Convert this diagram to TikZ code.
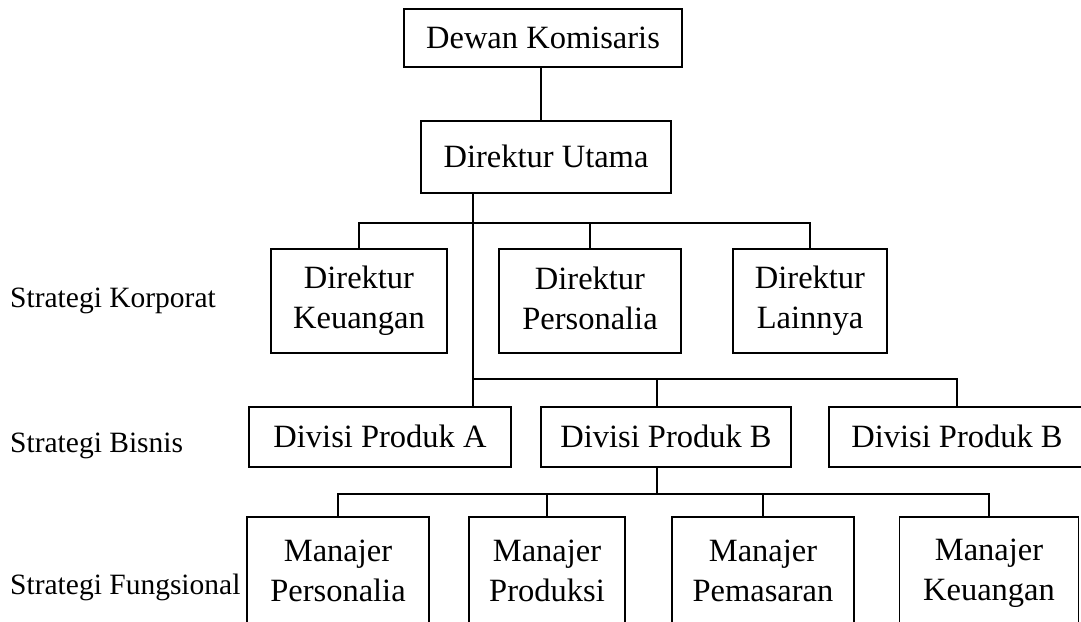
\documentclass[tikz,border=0pt]{standalone}
\usepackage{fontspec}
\setmainfont{Liberation Serif}
\begin{document}
\begin{tikzpicture}[x=1pt,y=-1pt,
  boxbase/.style={draw, line width=1.6pt, inner sep=0pt, align=center,
    font=\fontsize{32.5}{40}\selectfont},
  unit/.style={boxbase,
    execute at begin node={\rule{0pt}{30pt}},
    execute at end node={\rule[-10pt]{0pt}{10pt}}},
  pair/.style={boxbase,
    execute at begin node={\rule{0pt}{35pt}},
    execute at end node={\rule[-5pt]{0pt}{5pt}}},
  tier/.style={anchor=west, inner sep=0pt, font=\fontsize{29.5}{35}\selectfont},
  link/.style={line width=1.6pt}]
\useasboundingbox (0,0) rectangle (1081,621);
\clip (0,0) rectangle (1081,621);

% top of the hierarchy
\node[unit, minimum width=278pt, minimum height=58pt] (dk) at (543,38) {Dewan Komisaris};
\node[unit, minimum width=250pt, minimum height=72pt] (du) at (546,157) {Direktur Utama};

% directors
\node[pair, minimum width=176pt, minimum height=104pt] (dkeu) at (359,301) {Direktur\\Keuangan};
\node[pair, minimum width=182pt, minimum height=104pt] (dpers) at (590,301) {Direktur\\Personalia};
\node[pair, minimum width=154pt, minimum height=104pt] (dlain) at (810,301) {Direktur\\Lainnya};

% product divisions
\node[unit, minimum width=262pt, minimum height=60pt] (diva) at (380,437) {Divisi Produk A};
\node[unit, minimum width=250pt, minimum height=60pt] (divb) at (666,437) {Divisi Produk B};
\node[unit, minimum width=256pt, minimum height=60pt] (divc) at (957,437) {Divisi Produk B};

% functional managers
\node[pair, minimum width=182pt, minimum height=112pt] (m1) at (338,573) {Manajer\\Personalia};
\node[pair, minimum width=156pt, minimum height=112pt] (m2) at (547,573) {Manajer\\Produksi};
\node[pair, minimum width=182pt, minimum height=112pt] (m3) at (763,573) {Manajer\\Pemasaran};
\node[pair, minimum width=179pt, minimum height=112pt] (m4) at (989,573) {Manajer\\Keuangan};

% strategy levels
\node[tier] (lk) at (10,301) {Strategi Korporat};
\node[tier] (lb) at (10,446) {Strategi Bisnis};
\node[tier] (lf) at (10,587) {Strategi Fungsional};

% junction lines
\coordinate (trunk) at (473,0);
\coordinate (spine) at (657,0);
\coordinate (bar1) at (0,223);
\coordinate (bar2) at (0,379);
\coordinate (bar3) at (0,494);

\draw[link] (dk.south -| 541,0) -- (du.north -| 541,0);
\draw[link] (du.south -| trunk) -- (diva.north -| trunk);

\draw[link] (dkeu.north) -- (dkeu.north |- bar1) -- (dlain.north |- bar1) -- (dlain.north);
\draw[link] (dpers.north) -- (dpers.north |- bar1);

\draw[link] (trunk |- bar2) -- (divc.north |- bar2) -- (divc.north);
\draw[link] (divb.north -| spine) -- (spine |- bar2);

\draw[link] (divb.south -| spine) -- (spine |- bar3);
\draw[link] (m1.north) -- (m1.north |- bar3) -- (m4.north |- bar3) -- (m4.north);
\draw[link] (m2.north) -- (m2.north |- bar3);
\draw[link] (m3.north) -- (m3.north |- bar3);
\end{tikzpicture}
\end{document}
